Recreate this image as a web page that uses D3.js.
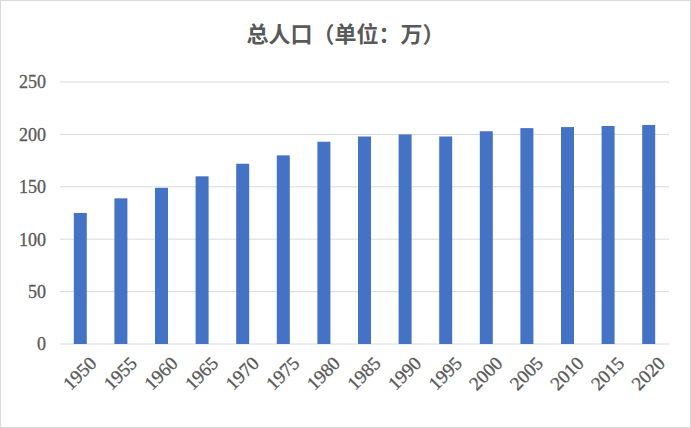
<!DOCTYPE html>
<html><head><meta charset="utf-8">
<script src="https://cdn.jsdelivr.net/npm/d3@7"></script>
<style>body{margin:0;background:#fff}</style></head>
<body><svg id="c" width="691" height="428"></svg>
<script>
const years = ["1950","1955","1960","1965","1970","1975","1980","1985","1990","1995","2000","2005","2010","2015","2020"];
const population = [125,139,149,160,172,180,193,198,200,198,203,206,207,208,209];
const yTicks = [0,50,100,150,200,250];

const svg = d3.select("#c");
svg.append("rect").attr("x",0.5).attr("y",0.5).attr("width",690).attr("height",427)
  .attr("fill","#fff").attr("stroke","#d9d9d9");
const m = {l:60, r:22, t:82, b:84};
const W = 691, H = 428;
const x = d3.scaleBand().domain(years).range([m.l, W-m.r]).paddingInner(0.68).paddingOuter(0.34);
const y = d3.scaleLinear().domain([0,250]).range([H-m.b, m.t]);

svg.append("g").selectAll("line").data(yTicks).join("line")
  .attr("x1",m.l).attr("x2",W-m.r).attr("y1",d=>y(d)).attr("y2",d=>y(d))
  .attr("stroke","#d9d9d9").attr("stroke-width",1);

svg.append("g").selectAll("text").data(yTicks).join("text")
  .attr("x",m.l-14).attr("y",d=>y(d)).attr("dy","0.35em").attr("text-anchor","end")
  .attr("font-family","Liberation Serif").attr("font-size",18).attr("fill","#595959")
  .attr("stroke","#595959").attr("stroke-width",0.3).text(d=>d);

svg.append("g").selectAll("rect").data(years).join("rect")
  .attr("x",d=>x(d)).attr("width",x.bandwidth())
  .attr("y",(d,i)=>y(population[i])).attr("height",(d,i)=>y(0)-y(population[i]))
  .attr("fill","#4472c4");

svg.append("g").selectAll("text").data(years).join("text")
  .attr("transform",d=>`translate(${x(d)+x.bandwidth()/2+8},${y(0)+11}) rotate(-45)`)
  .attr("text-anchor","end").attr("dy","0.7em")
  .attr("font-family","Liberation Serif").attr("font-size",19).attr("fill","#595959")
  .attr("stroke","#595959").attr("stroke-width",0.3).text(d=>d);

svg.append("text").attr("x",W/2).attr("y",42).attr("text-anchor","middle")
  .attr("font-family","Noto Sans CJK SC").attr("font-weight","bold").attr("font-size",22)
  .attr("fill","#595959").text("总人口（单位：万）");
</script></body></html>
